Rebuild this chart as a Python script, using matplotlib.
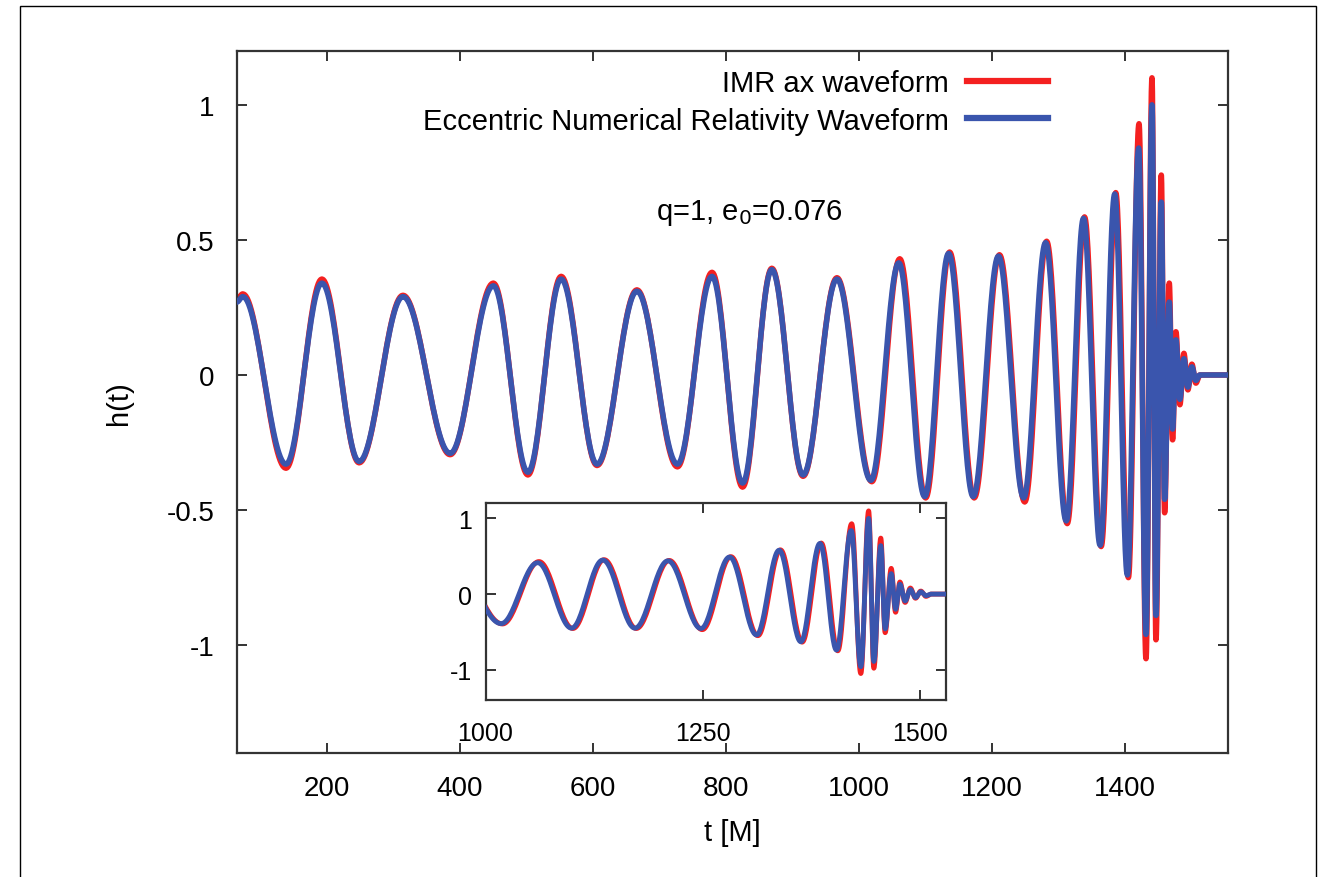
import numpy as np
import matplotlib
matplotlib.use("Agg")
import matplotlib.pyplot as plt
from matplotlib.lines import Line2D
from matplotlib.patches import Rectangle

plt.rcParams['font.family'] = ['Liberation Sans', 'DejaVu Sans']
plt.rcParams['axes.unicode_minus'] = False

# Extrema (time, amplitude)
# Eccentric numerical relativity waveform (blue)
t_nr = [64, 73, 138, 192, 248, 314, 385, 450, 502, 552, 606, 666,
        727, 779, 825, 869, 916, 967,
        1018, 1060, 1099, 1135, 1172, 1210, 1248, 1281, 1312, 1338,
        1363, 1385, 1404, 1421, 1432, 1441, 1447, 1455, 1460, 1467,
        1472, 1477, 1483, 1489, 1495, 1501, 1507, 1513, 1555]
h_nr = [0.27, 0.29, -0.33, 0.34, -0.32, 0.29, -0.29, 0.33, -0.36, 0.355, -0.33, 0.31,
        -0.33, 0.365, -0.40, 0.39, -0.37, 0.355,
        -0.39, 0.415, -0.45, 0.45, -0.45, 0.44, -0.455, 0.49, -0.54, 0.58,
        -0.63, 0.67, -0.74, 0.84, -0.96, 1.0, -0.89, 0.64, -0.46, 0.27,
        -0.2, 0.13, -0.09, 0.06, -0.045, 0.03, -0.02, 0.0, 0.0]

# IMR ax waveform (red)
t_imr = [64, 73, 138, 192, 248, 314, 385, 450, 502, 552, 606, 666,
         727, 779, 825, 869, 916, 967,
         1019.5, 1061.5, 1100.5, 1136.5, 1173.5, 1211.5, 1249.5, 1282.5, 1313.5, 1339.5,
         1364.5, 1386.5, 1405.5, 1421.5, 1432, 1441, 1447, 1455, 1460, 1467,
         1472, 1477, 1483, 1489, 1495, 1501, 1507, 1513, 1555]
h_imr = [0.28, 0.30, -0.345, 0.355, -0.325, 0.295, -0.295, 0.34, -0.37, 0.365, -0.335, 0.315,
         -0.34, 0.38, -0.415, 0.395, -0.375, 0.36,
         -0.395, 0.43, -0.455, 0.455, -0.455, 0.445, -0.47, 0.495, -0.55, 0.585,
         -0.635, 0.675, -0.75, 0.93, -1.05, 1.10, -0.98, 0.74, -0.51, 0.34,
         -0.24, 0.16, -0.11, 0.08, -0.055, 0.04, -0.03, 0.0, 0.0]

label_imr = 'IMR ax waveform'
label_nr = 'Eccentric Numerical Relativity Waveform'
annot = 'q=1, e$_0$=0.076'

main_xticks = [200, 400, 600, 800, 1000, 1200, 1400]
main_yticks = [-1, -0.5, 0, 0.5, 1]
main_yticklabels = ['-1', '-0.5', '0', '0.5', '1']
inset_xticks = [1000, 1250, 1500]
inset_yticks = [-1, 0, 1]

RED = '#f42020'
BLUE = '#3a55ad'
SPINE = '#333333'


def smooth_curve(t_ext, h_ext, n=30):
    # draw the oscillation through the read extrema with half-cosine arcs
    ts, hs = [], []
    for i in range(len(t_ext) - 1):
        t0, t1 = t_ext[i], t_ext[i + 1]
        a0, a1 = h_ext[i], h_ext[i + 1]
        s = np.linspace(0, 1, n, endpoint=False)
        ts.append(t0 + s * (t1 - t0))
        hs.append((a0 + a1) / 2 + (a0 - a1) / 2 * np.cos(np.pi * s))
    ts.append([t_ext[-1]])
    hs.append([h_ext[-1]])
    return np.concatenate(ts), np.concatenate(hs)


def style_axes(ax, size):
    for sp in ax.spines.values():
        sp.set_color(SPINE)
        sp.set_linewidth(1.6)
    ax.tick_params(direction='in', length=7, width=1.4, color=SPINE,
                   top=True, right=True, labelsize=size, pad=16)


x_nr, y_nr = smooth_curve(t_nr, h_nr)
x_imr, y_imr = smooth_curve(t_imr, h_imr)

fig = plt.figure(figsize=(13.23, 8.78), dpi=100)

# outer frame
fig.patches.append(Rectangle((20 / 1323, -0.2), 1296 / 1323, 1.192, transform=fig.transFigure,
                             fill=False, edgecolor='black', linewidth=1.0))

ax = fig.add_axes([0.179, 0.141, 0.749, 0.800])
ax.plot(x_imr, y_imr, color=RED, lw=4.0, zorder=2)
ax.plot(x_nr, y_nr, color=BLUE, lw=4.0, zorder=3)
ax.set_xlim(64, 1555)
ax.set_ylim(-1.4, 1.2)
ax.set_xticks(main_xticks)
ax.set_yticks(main_yticks)
ax.set_yticklabels(main_yticklabels)
style_axes(ax, 20)
ax.set_xlabel('t [M]', fontsize=21, labelpad=12)
ax.set_ylabel('h(t)', fontsize=21, labelpad=24)

handles = [Line2D([], [], color=RED, lw=4.5), Line2D([], [], color=BLUE, lw=4.5)]
ax.legend(handles, [label_imr, label_nr], loc='upper right', bbox_to_anchor=(0.819, 0.974),
          frameon=False, markerfirst=False, fontsize=21, handlelength=2.8,
          handletextpad=0.6, labelspacing=0.33, borderpad=0, borderaxespad=0)

ax.text(0.517, 0.770, annot, transform=ax.transAxes, fontsize=21,
        ha='center', va='center')

# inset zoom on the merger
axins = fig.add_axes([0.367, 0.2016, 0.348, 0.224])
axins.plot(x_imr, y_imr, color=RED, lw=3.5, zorder=2)
axins.plot(x_nr, y_nr, color=BLUE, lw=3.5, zorder=3)
axins.set_xlim(1000, 1530)
axins.set_ylim(-1.4, 1.2)
axins.set_xticks(inset_xticks)
axins.set_yticks(inset_yticks)
style_axes(axins, 18)
axins.tick_params(axis='x', pad=15)
axins.tick_params(axis='y', pad=10)

fig.savefig('out.png', dpi=100)
